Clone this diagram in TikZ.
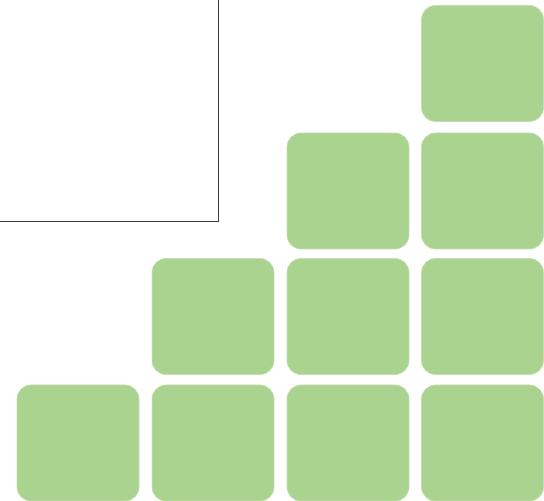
\documentclass[tikz,border=0pt]{standalone}
\usepackage{tikz}
\usetikzlibrary{positioning}
\definecolor{tilegreen}{RGB}{169,211,142}
\definecolor{framegray}{RGB}{60,60,60}
\tikzset{
  tile/.style={rectangle, rounded corners=14pt, minimum width=122pt, minimum height=116pt, inner sep=0pt, fill=tilegreen, draw=tilegreen!70!white, line width=0.6pt},
  panel/.style={draw=framegray, line width=0.8pt}
}

\begin{document}
\begin{tikzpicture}[x=1pt, y=1pt]

    % Marco de la imagen
    \useasboundingbox (0,0) rectangle (544,501);
    \clip (0,0) rectangle (544,501);

    % Panel superior izquierdo (bordes fuera del cuadro)
    \draw[panel] (-5,280) rectangle (218,506);

    % Escalera de bloques: columna/fila/centro x/centro y
    \foreach \c/\r/\px/\py in {
        1/4/78/58, 2/4/213/58, 3/4/348/58, 4/4/482.5/58,
        2/3/213/184.5, 3/3/348/184.5, 4/3/482.5/184.5,
        3/2/348/310, 4/2/482.5/310,
        4/1/482.5/437.5
    } {
        \node[tile] (b\c\r) at (\px,\py) {};
    }

\end{tikzpicture}
\end{document}
